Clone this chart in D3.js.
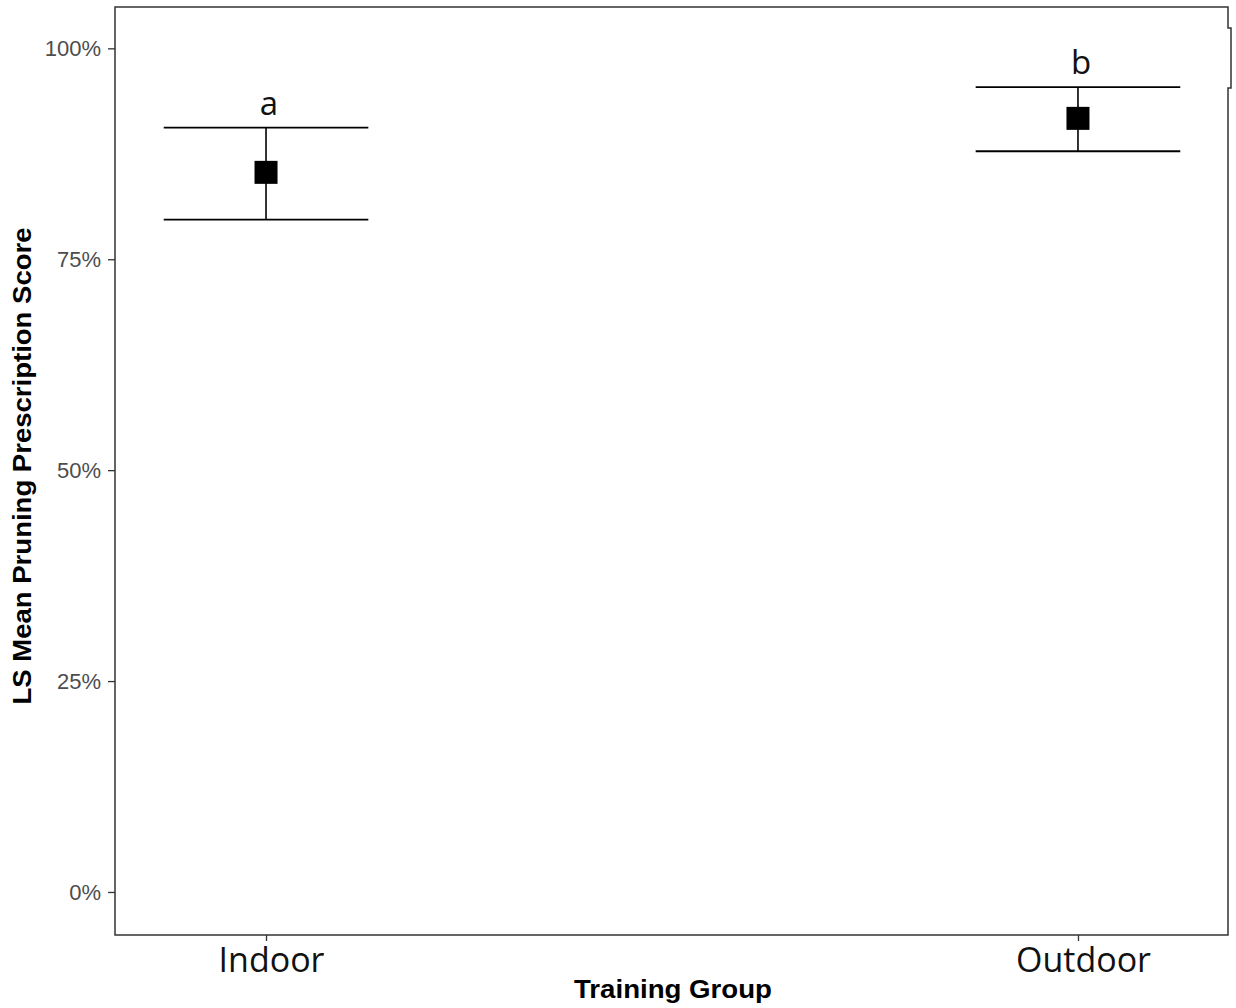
<!DOCTYPE html>
<html>
<head>
<meta charset="utf-8">
<script src="https://cdn.jsdelivr.net/npm/d3@7"></script>
<style>
  body { margin: 0; background: #fff; }
</style>
</head>
<body>
<svg width="1236" height="1008"></svg>
<script>
const groups = ["Indoor", "Outdoor"];
const means = [85.3, 91.7];
const lowers = [79.7, 87.8];
const uppers = [90.6, 95.4];
const letters = ["a", "b"];
const yTicks = [0, 25, 50, 75, 100];

const svg = d3.select("svg");
const pLeft = 115, pTop = 7, pRight = 1229, pBottom = 935;

const x = d3.scalePoint()
  .domain(groups)
  .range([pLeft, pRight])
  .padding(0.186);

const y = d3.scaleLinear()
  .domain([-5.1, 104.9])
  .range([pBottom, pTop]);

const capW = x.step() * 0.252;

// y axis
const yAxis = svg.append("g")
  .attr("transform", `translate(${pLeft},0)`)
  .call(d3.axisLeft(y).tickValues(yTicks).tickFormat(d => d + "%").tickSize(7).tickPadding(7));
yAxis.select(".domain").remove();
yAxis.selectAll("line").attr("stroke", "#333").attr("stroke-width", 1.3);
yAxis.selectAll("text")
  .attr("fill", "#4d4d4d")
  .style("font-family", "'Liberation Sans', Arial, sans-serif")
  .style("font-size", "22px");

// x axis
const xAxis = svg.append("g")
  .attr("transform", `translate(0,${pBottom})`)
  .call(d3.axisBottom(x).tickSize(6));
xAxis.select(".domain").remove();
xAxis.selectAll("line").attr("stroke", "#333").attr("stroke-width", 1.3);
xAxis.selectAll("text")
  .attr("fill", "#111")
  .attr("x", 5)
  .attr("y", 37)
  .attr("dy", 0)
  .style("font-family", "'Open Sans', sans-serif")
  .style("font-size", "34px");

// panel border, with the small step on the right edge
const border = d3.path();
border.moveTo(pLeft, pTop);
border.lineTo(pRight - 1, pTop);
border.lineTo(pRight - 1, 28);
border.lineTo(pRight + 2, 28);
border.lineTo(pRight + 2, 88);
border.lineTo(pRight - 1, 88);
border.lineTo(pRight - 1, pBottom);
border.lineTo(pLeft, pBottom);
border.closePath();
svg.append("path")
  .attr("d", border.toString())
  .attr("fill", "none")
  .attr("stroke", "#333")
  .attr("stroke-width", 1.5);

const data = groups.map((g, i) => ({ g, m: means[i], lo: lowers[i], hi: uppers[i], l: letters[i] }));

const eb = svg.append("g").selectAll("g").data(data).join("g");

eb.append("line")
  .attr("x1", d => x(d.g)).attr("x2", d => x(d.g))
  .attr("y1", d => y(d.lo)).attr("y2", d => y(d.hi))
  .attr("stroke", "#000").attr("stroke-width", 1.6);
eb.append("line")
  .attr("x1", d => x(d.g) - capW / 2).attr("x2", d => x(d.g) + capW / 2)
  .attr("y1", d => y(d.hi)).attr("y2", d => y(d.hi))
  .attr("stroke", "#000").attr("stroke-width", 1.8);
eb.append("line")
  .attr("x1", d => x(d.g) - capW / 2).attr("x2", d => x(d.g) + capW / 2)
  .attr("y1", d => y(d.lo)).attr("y2", d => y(d.lo))
  .attr("stroke", "#000").attr("stroke-width", 1.8);

eb.append("rect")
  .attr("x", d => x(d.g) - 11.5).attr("y", d => y(d.m) - 11.5)
  .attr("width", 23).attr("height", 23)
  .attr("fill", "#000");

eb.append("text")
  .attr("x", d => x(d.g) + 3)
  .attr("y", d => y(d.hi) - 13)
  .attr("text-anchor", "middle")
  .attr("fill", "#111")
  .style("font-family", "'Open Sans', sans-serif")
  .style("font-size", "33px")
  .text(d => d.l);

// axis titles
svg.append("text")
  .attr("x", 673).attr("y", 998)
  .attr("text-anchor", "middle")
  .attr("textLength", 198)
  .attr("lengthAdjust", "spacingAndGlyphs")
  .style("font-family", "'Liberation Sans', Arial, sans-serif")
  .style("font-weight", "bold")
  .style("font-size", "25px")
  .text("Training Group");

svg.append("text")
  .attr("transform", "translate(31,466) rotate(-90)")
  .attr("text-anchor", "middle")
  .attr("textLength", 477)
  .attr("lengthAdjust", "spacingAndGlyphs")
  .style("font-family", "'Liberation Sans', Arial, sans-serif")
  .style("font-weight", "bold")
  .style("font-size", "26px")
  .text("LS Mean Pruning Prescription Score");
</script>
</body>
</html>
